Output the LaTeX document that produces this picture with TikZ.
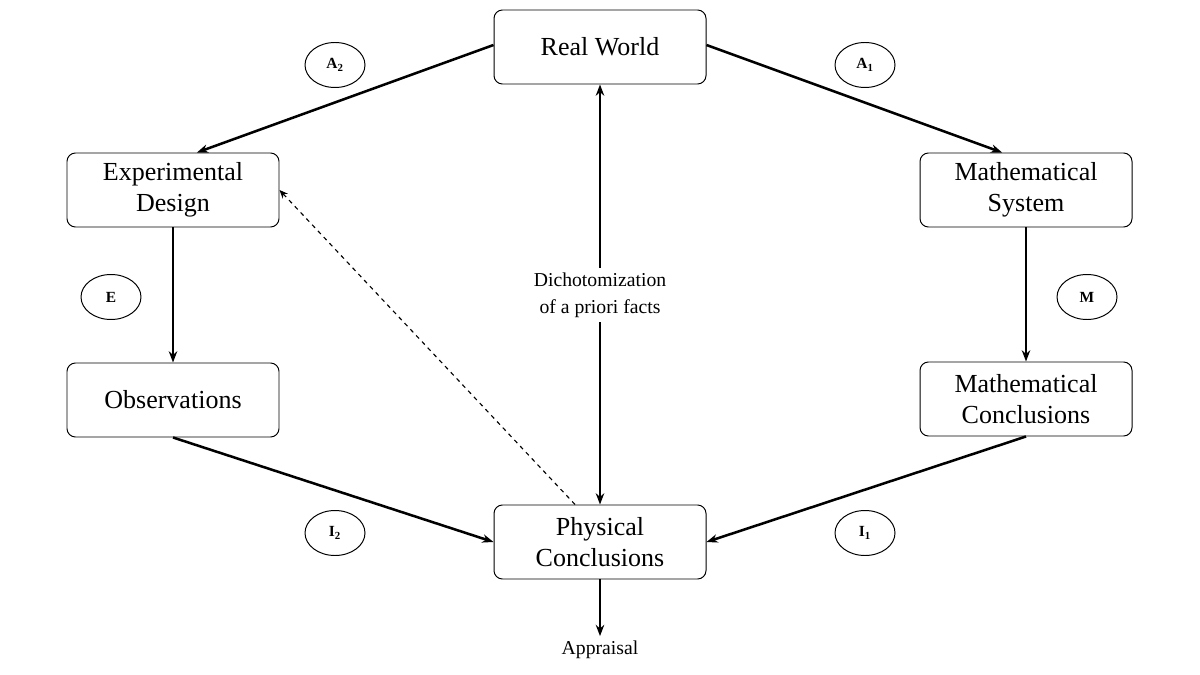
\documentclass[tikz,border=0pt]{standalone}
\usepackage{fontspec}
\setmainfont{Liberation Serif}
\usetikzlibrary{arrows.meta,shapes.geometric}
\begin{document}
\begin{tikzpicture}[x=0.025cm,y=-0.025cm,
  box/.style={draw,rounded corners=6pt,minimum width=212*0.025cm,minimum height=74*0.025cm,align=center,font=\fontsize{18.5}{22}\selectfont,line width=0.7pt},
  lab/.style={draw,ellipse,minimum width=60*0.025cm,minimum height=45*0.025cm,inner sep=0pt,font=\fontsize{11}{13}\selectfont\bfseries,line width=0.7pt},
  arr/.style={line width=1.8pt,-{Stealth[length=8pt,width=6pt]}},
  txt/.style={align=center,font=\fontsize{14}{19}\selectfont}]
\useasboundingbox (0,0) rectangle (1200,675);
\node[box] (rw) at (600,47) {Real World};
\node[box] (ed) at (173,190) {Experimental\\Design};
\node[box] (ms) at (1026,190) {Mathematical\\System};
\node[box] (ob) at (173,400) {Observations};
\node[box] (mc) at (1026,399) {Mathematical\\Conclusions};
\node[box] (pc) at (600,542) {Physical\\Conclusions};
\node[txt] (ap) at (600,650) {Appraisal};
\node[txt] (di) at (600,295) {Dichotomization\\of a priori facts};
\node[lab] (a2) at (335,65) {A$_\mathbf{2}$};
\node[lab] (a1) at (865,65) {A$_\mathbf{1}$};
\node[lab] (e) at (111,297) {E};
\node[lab] (m) at (1087,297) {M};
\node[lab] (i2) at (335,533) {I$_\mathbf{2}$};
\node[lab] (i1) at (865,533) {I$_\mathbf{1}$};
\draw[arr] (rw.west) ++(0,-2) -- ([xshift=17pt]ed.north);
\draw[arr] (rw.east) ++(0,-2) -- ([xshift=-17pt]ms.north);
\draw[arr] (ed.south) -- (ob.north);
\draw[arr] (ms.south) -- (mc.north);
\draw[arr] (ob.south) -- (pc.west);
\draw[arr] (mc.south) -- (pc.east);
\draw[arr] (di.south) -- (pc.north);
\draw[arr] (di.north) -- (rw.south);
\draw[arr] (pc.south) -- (ap.north);
\draw[dashed,line width=0.8pt,-{Stealth[length=6pt,width=5pt]}] ([xshift=-25pt*0.71]pc.north) -- ([yshift=0pt]ed.east);
\end{tikzpicture}
\end{document}
